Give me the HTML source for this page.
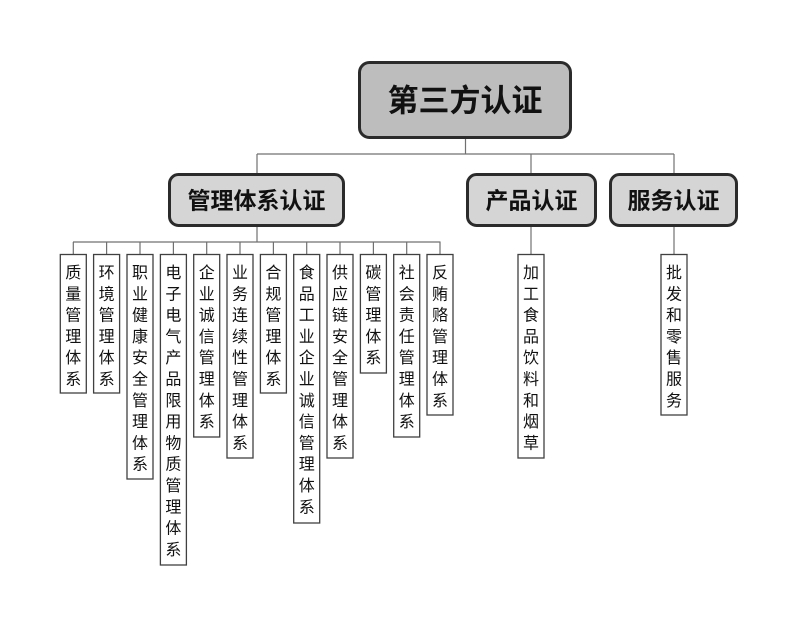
<!DOCTYPE html>
<html><head><meta charset="utf-8"><style>
html,body{margin:0;padding:0;background:#fff;}
svg{display:block;}
text{font-family:"Liberation Sans","Noto Sans CJK SC",sans-serif;}
</style></head><body>
<svg width="800" height="626" viewBox="0 0 800 626" xmlns="http://www.w3.org/2000/svg">
<g stroke="#707070" stroke-width="1.2" fill="none">
<line x1="465.5" y1="139" x2="465.5" y2="154"/>
<line x1="257" y1="154" x2="674" y2="154"/>
<line x1="257" y1="154" x2="257" y2="174"/>
<line x1="531" y1="154" x2="531" y2="174"/>
<line x1="674" y1="154" x2="674" y2="174"/>
<line x1="257" y1="226" x2="257" y2="242"/>
<line x1="73" y1="242" x2="440.5" y2="242"/>
<line x1="531" y1="226" x2="531" y2="254"/>
<line x1="674" y1="226" x2="674" y2="254"/>
<line x1="73.3" y1="242" x2="73.3" y2="254"/>
<line x1="106.6" y1="242" x2="106.6" y2="254"/>
<line x1="140" y1="242" x2="140" y2="254"/>
<line x1="173.4" y1="242" x2="173.4" y2="254"/>
<line x1="206.7" y1="242" x2="206.7" y2="254"/>
<line x1="240" y1="242" x2="240" y2="254"/>
<line x1="273.4" y1="242" x2="273.4" y2="254"/>
<line x1="306.7" y1="242" x2="306.7" y2="254"/>
<line x1="340" y1="242" x2="340" y2="254"/>
<line x1="373.4" y1="242" x2="373.4" y2="254"/>
<line x1="406.7" y1="242" x2="406.7" y2="254"/>
<line x1="440" y1="242" x2="440" y2="254"/>
</g>
<rect x="359.5" y="62.5" width="211" height="75" rx="10" fill="#bdbdbd" stroke="#2b2b2b" stroke-width="3"/>
<text x="465" y="101" font-size="31" font-weight="bold" text-anchor="middle" dominant-baseline="central" fill="#111">第三方认证</text>
<rect x="169.5" y="174.5" width="174" height="51" rx="9" fill="#d5d5d5" stroke="#2b2b2b" stroke-width="3"/>
<text x="256.5" y="200.5" font-size="23" font-weight="bold" text-anchor="middle" dominant-baseline="central" fill="#111">管理体系认证</text>
<rect x="467.5" y="174.5" width="128" height="51" rx="9" fill="#d5d5d5" stroke="#2b2b2b" stroke-width="3"/>
<text x="531.5" y="200.5" font-size="23" font-weight="bold" text-anchor="middle" dominant-baseline="central" fill="#111">产品认证</text>
<rect x="610.5" y="174.5" width="126" height="51" rx="9" fill="#d5d5d5" stroke="#2b2b2b" stroke-width="3"/>
<text x="673.5" y="200.5" font-size="23" font-weight="bold" text-anchor="middle" dominant-baseline="central" fill="#111">服务认证</text>
<g id="leaves" fill="#fff" stroke="#404040" stroke-width="1.3">
<rect x="60.3" y="254.5" width="26" height="138.5"/>
<rect x="93.6" y="254.5" width="26" height="138.5"/>
<rect x="127" y="254.5" width="26" height="224.5"/>
<rect x="160.4" y="254.5" width="26" height="310.5"/>
<rect x="193.7" y="254.5" width="26" height="182.5"/>
<rect x="227" y="254.5" width="26" height="203.5"/>
<rect x="260.4" y="254.5" width="26" height="138.5"/>
<rect x="293.7" y="254.5" width="26" height="268.5"/>
<rect x="327" y="254.5" width="26" height="203.5"/>
<rect x="360.4" y="254.5" width="26" height="118.5"/>
<rect x="393.7" y="254.5" width="26" height="182.5"/>
<rect x="427" y="254.5" width="26" height="160.5"/>
<rect x="518" y="254.5" width="26" height="203.5"/>
<rect x="661" y="254.5" width="26" height="160.5"/>
</g>
<g font-size="16" fill="#111" text-anchor="middle" dominant-baseline="central">
<text x="73.3" y="273"><tspan x="73.3" dy="0">质</tspan><tspan x="73.3" dy="21.3">量</tspan><tspan x="73.3" dy="21.3">管</tspan><tspan x="73.3" dy="21.3">理</tspan><tspan x="73.3" dy="21.3">体</tspan><tspan x="73.3" dy="21.3">系</tspan></text>
<text x="106.6" y="273"><tspan x="106.6" dy="0">环</tspan><tspan x="106.6" dy="21.3">境</tspan><tspan x="106.6" dy="21.3">管</tspan><tspan x="106.6" dy="21.3">理</tspan><tspan x="106.6" dy="21.3">体</tspan><tspan x="106.6" dy="21.3">系</tspan></text>
<text x="140" y="273"><tspan x="140" dy="0">职</tspan><tspan x="140" dy="21.3">业</tspan><tspan x="140" dy="21.3">健</tspan><tspan x="140" dy="21.3">康</tspan><tspan x="140" dy="21.3">安</tspan><tspan x="140" dy="21.3">全</tspan><tspan x="140" dy="21.3">管</tspan><tspan x="140" dy="21.3">理</tspan><tspan x="140" dy="21.3">体</tspan><tspan x="140" dy="21.3">系</tspan></text>
<text x="173.4" y="273"><tspan x="173.4" dy="0">电</tspan><tspan x="173.4" dy="21.3">子</tspan><tspan x="173.4" dy="21.3">电</tspan><tspan x="173.4" dy="21.3">气</tspan><tspan x="173.4" dy="21.3">产</tspan><tspan x="173.4" dy="21.3">品</tspan><tspan x="173.4" dy="21.3">限</tspan><tspan x="173.4" dy="21.3">用</tspan><tspan x="173.4" dy="21.3">物</tspan><tspan x="173.4" dy="21.3">质</tspan><tspan x="173.4" dy="21.3">管</tspan><tspan x="173.4" dy="21.3">理</tspan><tspan x="173.4" dy="21.3">体</tspan><tspan x="173.4" dy="21.3">系</tspan></text>
<text x="206.7" y="273"><tspan x="206.7" dy="0">企</tspan><tspan x="206.7" dy="21.3">业</tspan><tspan x="206.7" dy="21.3">诚</tspan><tspan x="206.7" dy="21.3">信</tspan><tspan x="206.7" dy="21.3">管</tspan><tspan x="206.7" dy="21.3">理</tspan><tspan x="206.7" dy="21.3">体</tspan><tspan x="206.7" dy="21.3">系</tspan></text>
<text x="240" y="273"><tspan x="240" dy="0">业</tspan><tspan x="240" dy="21.3">务</tspan><tspan x="240" dy="21.3">连</tspan><tspan x="240" dy="21.3">续</tspan><tspan x="240" dy="21.3">性</tspan><tspan x="240" dy="21.3">管</tspan><tspan x="240" dy="21.3">理</tspan><tspan x="240" dy="21.3">体</tspan><tspan x="240" dy="21.3">系</tspan></text>
<text x="273.4" y="273"><tspan x="273.4" dy="0">合</tspan><tspan x="273.4" dy="21.3">规</tspan><tspan x="273.4" dy="21.3">管</tspan><tspan x="273.4" dy="21.3">理</tspan><tspan x="273.4" dy="21.3">体</tspan><tspan x="273.4" dy="21.3">系</tspan></text>
<text x="306.7" y="273"><tspan x="306.7" dy="0">食</tspan><tspan x="306.7" dy="21.3">品</tspan><tspan x="306.7" dy="21.3">工</tspan><tspan x="306.7" dy="21.3">业</tspan><tspan x="306.7" dy="21.3">企</tspan><tspan x="306.7" dy="21.3">业</tspan><tspan x="306.7" dy="21.3">诚</tspan><tspan x="306.7" dy="21.3">信</tspan><tspan x="306.7" dy="21.3">管</tspan><tspan x="306.7" dy="21.3">理</tspan><tspan x="306.7" dy="21.3">体</tspan><tspan x="306.7" dy="21.3">系</tspan></text>
<text x="340" y="273"><tspan x="340" dy="0">供</tspan><tspan x="340" dy="21.3">应</tspan><tspan x="340" dy="21.3">链</tspan><tspan x="340" dy="21.3">安</tspan><tspan x="340" dy="21.3">全</tspan><tspan x="340" dy="21.3">管</tspan><tspan x="340" dy="21.3">理</tspan><tspan x="340" dy="21.3">体</tspan><tspan x="340" dy="21.3">系</tspan></text>
<text x="373.4" y="273"><tspan x="373.4" dy="0">碳</tspan><tspan x="373.4" dy="21.3">管</tspan><tspan x="373.4" dy="21.3">理</tspan><tspan x="373.4" dy="21.3">体</tspan><tspan x="373.4" dy="21.3">系</tspan></text>
<text x="406.7" y="273"><tspan x="406.7" dy="0">社</tspan><tspan x="406.7" dy="21.3">会</tspan><tspan x="406.7" dy="21.3">责</tspan><tspan x="406.7" dy="21.3">任</tspan><tspan x="406.7" dy="21.3">管</tspan><tspan x="406.7" dy="21.3">理</tspan><tspan x="406.7" dy="21.3">体</tspan><tspan x="406.7" dy="21.3">系</tspan></text>
<text x="440" y="273"><tspan x="440" dy="0">反</tspan><tspan x="440" dy="21.3">贿</tspan><tspan x="440" dy="21.3">赂</tspan><tspan x="440" dy="21.3">管</tspan><tspan x="440" dy="21.3">理</tspan><tspan x="440" dy="21.3">体</tspan><tspan x="440" dy="21.3">系</tspan></text>
<text x="531" y="273"><tspan x="531" dy="0">加</tspan><tspan x="531" dy="21.3">工</tspan><tspan x="531" dy="21.3">食</tspan><tspan x="531" dy="21.3">品</tspan><tspan x="531" dy="21.3">饮</tspan><tspan x="531" dy="21.3">料</tspan><tspan x="531" dy="21.3">和</tspan><tspan x="531" dy="21.3">烟</tspan><tspan x="531" dy="21.3">草</tspan></text>
<text x="674" y="273"><tspan x="674" dy="0">批</tspan><tspan x="674" dy="21.3">发</tspan><tspan x="674" dy="21.3">和</tspan><tspan x="674" dy="21.3">零</tspan><tspan x="674" dy="21.3">售</tspan><tspan x="674" dy="21.3">服</tspan><tspan x="674" dy="21.3">务</tspan></text>
</g>
</svg>
</body></html>
